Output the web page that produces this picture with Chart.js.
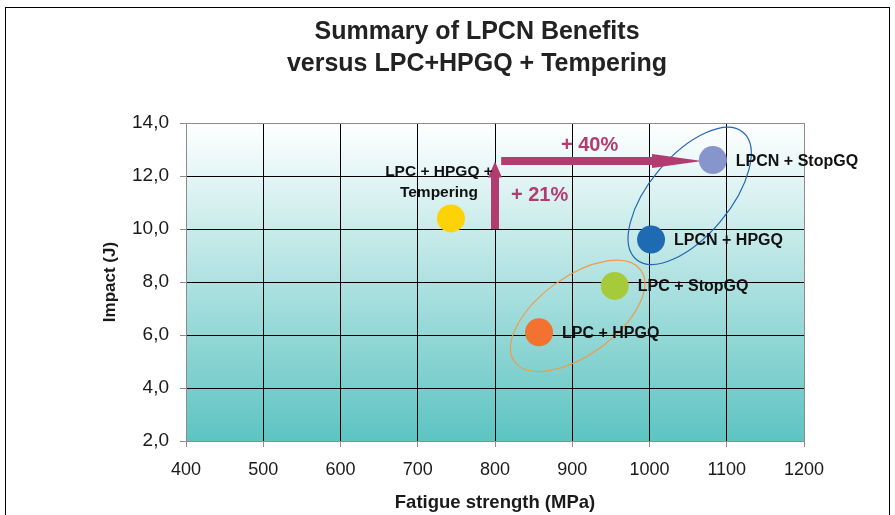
<!DOCTYPE html>
<html>
<head>
<meta charset="utf-8">
<script src="https://cdn.jsdelivr.net/npm/chart.js@4.4.0/dist/chart.umd.min.js"></script>
<style>
  html, body { margin: 0; padding: 0; background: #fff; overflow: hidden; }
  #wrap { position: relative; width: 895px; height: 515px; }
  #frame { position: absolute; left: 5px; top: 7px; width: 883px; height: 600px; border: 1px solid #000; }
  canvas { position: absolute; left: 0; top: 0; }
</style>
</head>
<body>
<div id="wrap">
  <div id="frame"></div>
  <canvas id="benefits" width="895" height="515"></canvas>
</div>
<script>
// process routes and their measured properties
const treatments = ['LPC + HPGQ + Tempering', 'LPCN + StopGQ', 'LPCN + HPGQ', 'LPC + StopGQ', 'LPC + HPGQ'];
const fatigueStrength = [743, 1082, 1002, 955, 857];   // MPa
const impactEnergy = [10.4, 12.6, 9.6, 7.85, 6.1];      // J
const pointColors = ['#FDD308', '#8695CB', '#1F6BB3', '#A5CB3A', '#F37230'];

const xTicks = [400, 500, 600, 700, 800, 900, 1000, 1100, 1200];
const yTicks = [2, 4, 6, 8, 10, 12, 14];

// gain arrows: [x0, y0, x1, y1] in data units
const impactGain = [800, 10.0, 800, 12.55];
const fatigueGain = [808, 12.57, 1068, 12.57];
const gainLabels = ['+ 21%', '+ 40%'];

// groups circled on the plot: centre in data units
const lpcnGroup = [1052, 11.25];
const lpcGroup = [907, 6.72];

const titleLines = ['Summary of LPCN Benefits', 'versus LPC+HPGQ + Tempering'];

const FONT = '"Liberation Sans", Arial, sans-serif';
const ARROW = '#B23B70';

const plotBackground = {
  id: 'plotBackground',
  beforeDraw(chart) {
    const { ctx, chartArea: a } = chart;
    const g = ctx.createLinearGradient(0, a.top, 0, a.bottom);
    g.addColorStop(0, '#FFFFFF');
    g.addColorStop(1, '#5DC4C2');
    ctx.save();
    ctx.fillStyle = g;
    ctx.fillRect(a.left, a.top, a.right - a.left, a.bottom - a.top);
    ctx.restore();
  }
};

function arrow(ctx, x0, y0, x1, y1) {
  const ang = Math.atan2(y1 - y0, x1 - x0);
  const len = Math.hypot(x1 - x0, y1 - y0);
  const head = ang === 0 ? 50 : 16;
  ctx.save();
  ctx.translate(x0, y0);
  ctx.rotate(ang);
  ctx.fillStyle = ARROW;
  ctx.beginPath();
  ctx.moveTo(0, -4);
  ctx.lineTo(len - head, -4);
  ctx.lineTo(len - head, -7);
  ctx.lineTo(len, 0);
  ctx.lineTo(len - head, 7);
  ctx.lineTo(len - head, 4);
  ctx.lineTo(0, 4);
  ctx.closePath();
  ctx.fill();
  ctx.restore();
}

function ellipse(ctx, cx, cy, rx, ry, rot, color) {
  ctx.save();
  ctx.strokeStyle = color;
  ctx.lineWidth = 1.2;
  ctx.beginPath();
  ctx.ellipse(cx, cy, rx, ry, rot, 0, Math.PI * 2);
  ctx.stroke();
  ctx.restore();
}

const annotations = {
  id: 'annotations',
  beforeDatasetsDraw(chart) {
    const { ctx, scales: { x, y } } = chart;
    ellipse(ctx, x.getPixelForValue(lpcnGroup[0]), y.getPixelForValue(lpcnGroup[1]), 83, 40, -50 * Math.PI / 180, '#2266B5');
    ellipse(ctx, x.getPixelForValue(lpcGroup[0]), y.getPixelForValue(lpcGroup[1]), 78, 39, -36 * Math.PI / 180, '#F29A45');

    const v = impactGain.map((val, i) => (i % 2 ? y : x).getPixelForValue(val));
    const h = fatigueGain.map((val, i) => (i % 2 ? y : x).getPixelForValue(val));
    arrow(ctx, v[0], v[1], v[2], v[3]);
    arrow(ctx, h[0], h[1], h[2], h[3]);

    ctx.save();
    ctx.fillStyle = ARROW;
    ctx.font = 'bold 20px ' + FONT;
    ctx.textBaseline = 'middle';
    ctx.textAlign = 'left';
    ctx.fillText(gainLabels[0], v[0] + 16, (v[1] + v[3]) / 2);
    ctx.textAlign = 'center';
    ctx.fillText(gainLabels[1], (h[0] + h[2]) / 2 - 12, h[1] - 15);
    ctx.restore();
  },
  afterDatasetsDraw(chart) {
    const { ctx } = chart;
    ctx.save();
    ctx.fillStyle = '#111';
    ctx.textBaseline = 'middle';
    chart.data.datasets.forEach((ds, i) => {
      const p = chart.getDatasetMeta(i).data[0];
      if (i === 0) {
        ctx.font = 'bold 15.5px ' + FONT;
        ctx.textAlign = 'center';
        ctx.fillText('LPC + HPGQ +', p.x - 12, p.y - 47);
        ctx.fillText('Tempering', p.x - 12, p.y - 26);
      } else {
        ctx.font = 'bold 16px ' + FONT;
        ctx.textAlign = 'left';
        ctx.fillText(ds.label, p.x + 23, p.y + 1);
      }
    });
    ctx.restore();
  },
  afterDraw(chart) {
    const { ctx } = chart;
    ctx.save();
    ctx.fillStyle = '#222';
    ctx.font = 'bold 25px ' + FONT;
    ctx.textAlign = 'center';
    ctx.textBaseline = 'middle';
    ctx.fillText(titleLines[0], 477, 32);
    ctx.fillText(titleLines[1], 477, 64);
    ctx.restore();
  }
};

const edgeGray = '#8C8C8C';

new Chart(document.getElementById('benefits'), {
  type: 'scatter',
  data: {
    datasets: treatments.map((name, i) => ({
      label: name,
      data: [{ x: fatigueStrength[i], y: impactEnergy[i] }],
      backgroundColor: pointColors[i],
      borderColor: pointColors[i],
      pointRadius: 14,
      pointHoverRadius: 14,
      borderWidth: 0
    }))
  },
  options: {
    responsive: false,
    animation: false,
    events: [],
    layout: { padding: { top: 123, right: 91, left: 100, bottom: 0 } },
    plugins: {
      legend: { display: false },
      title: { display: false },
      tooltip: { enabled: false }
    },
    scales: {
      x: {
        min: 400, max: 1200,
        afterBuildTicks(scale) { scale.ticks = xTicks.map(v => ({ value: v })); },
        afterFit(scale) { scale.height = 74; },
        ticks: {
          color: '#1a1a1a', font: { family: FONT, size: 18 }, padding: 12,
          callback: v => String(v)
        },
        grid: {
          color: ctx => (ctx.tick && (ctx.tick.value === 400 || ctx.tick.value === 1200)) ? edgeGray : '#000',
          tickColor: edgeGray,
          tickLength: 6,
          lineWidth: 1
        },
        border: { color: edgeGray },
        title: {
          display: true, text: 'Fatigue strength (MPa)', color: '#1a1a1a',
          font: { family: FONT, size: 18.5, weight: 'bold' }, padding: { top: 4, bottom: 1 }
        }
      },
      y: {
        min: 2, max: 14,
        afterBuildTicks(scale) { scale.ticks = yTicks.map(v => ({ value: v })); },
        afterFit(scale) { scale.width = 86; },
        ticks: {
          color: '#1a1a1a', font: { family: FONT, size: 19 }, padding: 11,
          callback: v => v.toFixed(1).replace('.', ',')
        },
        grid: {
          color: ctx => (ctx.tick && (ctx.tick.value === 2 || ctx.tick.value === 14)) ? edgeGray : '#000',
          tickColor: edgeGray,
          tickLength: 6,
          lineWidth: 1
        },
        border: { color: edgeGray },
        title: {
          display: true, text: 'Impact (J)', color: '#1a1a1a',
          font: { family: FONT, size: 17, weight: 'bold' }, padding: { top: 0, bottom: 0 }
        }
      }
    }
  },
  plugins: [plotBackground, annotations]
});
</script>
</body>
</html>
